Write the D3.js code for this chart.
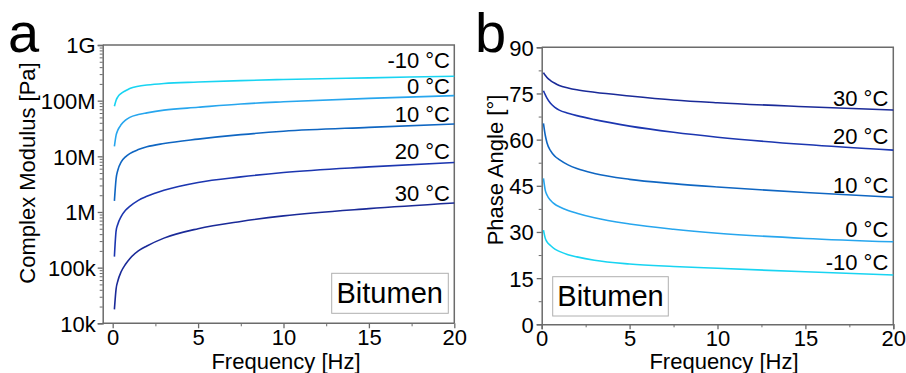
<!DOCTYPE html>
<html><head><meta charset="utf-8">
<script src="https://cdn.jsdelivr.net/npm/d3@7"></script>
<style>
html,body{margin:0;padding:0;background:#fff;}
svg{display:block;font-family:"Liberation Sans",Arial,Helvetica,sans-serif;}
</style></head>
<body>
<svg id="chart" width="906" height="373"></svg>
<script>
// ---------- data ----------
const freq = [0.1, 0.2, 0.3, 0.5, 0.75, 1, 1.5, 2, 3, 5, 7.5, 10, 15, 20];
const temps = ["-10 °C", "0 °C", "10 °C", "20 °C", "30 °C"];
// complex modulus [Pa]
const modM10 = [7.94e7, 1.02e8, 1.17e8, 1.35e8, 1.51e8, 1.66e8, 1.82e8, 1.91e8, 2.04e8, 2.16e8, 2.29e8, 2.4e8, 2.57e8, 2.75e8];
const mod0   = [1.51e7, 2.4e7, 2.95e7, 3.72e7, 4.47e7, 5.01e7, 5.62e7, 6.03e7, 6.76e7, 7.59e7, 8.71e7, 9.55e7, 1.1e8, 1.23e8];
const mod10  = [1.58e6, 3.98e6, 5.62e6, 7.94e6, 9.77e6, 1.12e7, 1.32e7, 1.48e7, 1.7e7, 2.04e7, 2.45e7, 2.82e7, 3.31e7, 3.8e7];
const mod20  = [1.58e5, 4.57e5, 6.03e5, 8.32e5, 1.07e6, 1.26e6, 1.62e6, 1.91e6, 2.45e6, 3.39e6, 4.27e6, 5.13e6, 6.46e6, 7.76e6];
const mod30  = [1.78e4, 4.17e4, 5.75e4, 8.51e4, 1.15e5, 1.45e5, 2.0e5, 2.45e5, 3.39e5, 5.01e5, 6.76e5, 8.51e5, 1.15e6, 1.45e6];
// phase angle [deg]
const phM10 = [30.6, 28.0, 26.8, 25.6, 24.4, 23.7, 22.6, 21.9, 20.8, 19.6, 18.8, 18.2, 17.05, 16.0];
const ph0   = [47.4, 43.6, 42.0, 40.3, 39.0, 38.2, 37.0, 36.1, 34.6, 32.6, 30.9, 29.6, 27.9, 26.8];
const ph10  = [65.3, 61.5, 59.0, 56.4, 54.6, 53.5, 51.8, 50.6, 49.0, 47.1, 45.7, 44.6, 42.8, 41.3];
const ph20  = [75.9, 74.6, 73.5, 71.8, 70.5, 69.6, 68.6, 67.8, 66.5, 64.4, 62.4, 60.8, 58.4, 56.6];
const ph30  = [81.8, 80.9, 80.2, 79.2, 78.3, 77.6, 76.8, 76.2, 75.4, 74.2, 72.9, 72.0, 70.7, 69.6];
const colors = ["#18d4f2", "#27a6ee", "#0f66c2", "#1c36b0", "#1a2a98"];
const xTicks = [0, 5, 10, 15, 20];
const xMinor = [2.5, 7.5, 12.5, 17.5];
const modTicks = [1e4, 1e5, 1e6, 1e7, 1e8, 1e9];
const modTickLabels = ["10k", "100k", "1M", "10M", "100M", "1G"];
const phTicks = [0, 15, 30, 45, 60, 75, 90];
const phMinor = [7.5, 22.5, 37.5, 52.5, 67.5, 82.5];

// ---------- drawing ----------
const svg = d3.select("#chart");
const AX = "#6b6b6b";
const tickFont = 22, titleFont = 22;

function frame(g, x0, x1, y0, y1) {
  g.append("path").attr("d", `M${x0},${y0}H${x1}V${y1}`)
    .attr("fill", "none").attr("stroke", AX).attr("stroke-width", 1.5);
}
function styleAxis(sel) {
  sel.select(".domain").attr("stroke", AX).attr("stroke-width", 1.5);
  sel.selectAll(".tick line").attr("stroke", AX).attr("stroke-width", 1.3);
  sel.selectAll(".tick text").attr("fill", "#000").style("font-size", tickFont + "px");
}

// ---- panel a ----
{
  const x = d3.scaleLinear().domain([-0.585, 20]).range([102.7, 454.3]);
  const y = d3.scaleLog().domain([1e4, 1e9]).range([323.3, 45]);
  const g = svg.append("g");
  frame(g, x.range()[0], x.range()[1], y.range()[1], y.range()[0]);
  const minorY = [];
  for (let d = 1e4; d < 1e9; d *= 10) for (let k = 2; k <= 9; k++) minorY.push(d * k);
  g.append("g").attr("transform", `translate(${x.range()[0]},0)`)
    .call(d3.axisLeft(y).tickValues(minorY).tickSize(3).tickFormat(""))
    .call(s => { s.select(".domain").remove(); s.selectAll("line").attr("stroke", AX); });
  g.append("g").attr("transform", `translate(0,${y.range()[0]})`)
    .call(d3.axisBottom(x).tickValues(xMinor).tickSize(3).tickFormat(""))
    .call(s => { s.select(".domain").remove(); s.selectAll("line").attr("stroke", AX); });
  const ya = g.append("g").attr("transform", `translate(${x.range()[0]},0)`)
    .call(d3.axisLeft(y).tickValues(modTicks).tickSize(5).tickPadding(2)
      .tickFormat((d, i) => modTickLabels[i]));
  styleAxis(ya);
  ya.selectAll(".tick text").attr("dy", "0.36em");
  const xa = g.append("g").attr("transform", `translate(0,${y.range()[0]})`)
    .call(d3.axisBottom(x).tickValues(xTicks).tickSize(5).tickPadding(1));
  styleAxis(xa);
  xa.select(".domain").attr("d", `M${x.range()[0]},0H${x.range()[1]}`);

  const mods = [modM10, mod0, mod10, mod20, mod30];
  const line = d3.line().x((d, i) => x(freq[i])).y(d => y(d)).curve(d3.curveMonotoneX);
  mods.forEach((s, k) => {
    g.append("path").datum(s).attr("d", line).attr("fill", "none")
      .attr("stroke", colors[k]).attr("stroke-width", 1.6);
  });
  const labY = [68, 94.3, 121.7, 159.3, 200.7];
  temps.forEach((t, k) => {
    g.append("text").attr("x", 450).attr("y", labY[k]).attr("text-anchor", "end")
      .style("font-size", tickFont + "px").text(t);
  });
  g.append("rect").attr("x", 331.7).attr("y", 273.3).attr("width", 116.6).attr("height", 40)
    .attr("fill", "#fff").attr("stroke", "#b0b0b0").attr("stroke-width", 1);
  g.append("text").attr("x", 336.5).attr("y", 302.7).style("font-size", "29px").text("Bitumen");
  g.append("text").attr("x", 286).attr("y", 369).attr("text-anchor", "middle")
    .style("font-size", titleFont + "px").text("Frequency [Hz]");
  g.append("text").attr("transform", "translate(35,173) rotate(-90)").attr("text-anchor", "middle")
    .style("font-size", titleFont + "px").text("Complex Modulus [Pa]");
  g.append("text").attr("x", 8).attr("y", 52).style("font-size", "56px").text("a");
}

// ---- panel b ----
{
  const x = d3.scaleLinear().domain([0, 20]).range([541.7, 893.3]);
  const y = d3.scaleLinear().domain([0, 90]).range([324.3, 47.3]);
  const g = svg.append("g");
  frame(g, x.range()[0], x.range()[1], y.range()[1], y.range()[0]);
  g.append("g").attr("transform", `translate(${x.range()[0]},0)`)
    .call(d3.axisLeft(y).tickValues(phMinor).tickSize(3).tickFormat(""))
    .call(s => { s.select(".domain").remove(); s.selectAll("line").attr("stroke", AX); });
  g.append("g").attr("transform", `translate(0,${y.range()[0]})`)
    .call(d3.axisBottom(x).tickValues(xMinor).tickSize(3).tickFormat(""))
    .call(s => { s.select(".domain").remove(); s.selectAll("line").attr("stroke", AX); });
  const ya = g.append("g").attr("transform", `translate(${x.range()[0]},0)`)
    .call(d3.axisLeft(y).tickValues(phTicks).tickSize(5).tickPadding(3));
  styleAxis(ya);
  ya.selectAll(".tick text").attr("dy", "0.36em");
  const xa = g.append("g").attr("transform", `translate(0,${y.range()[0]})`)
    .call(d3.axisBottom(x).tickValues(xTicks).tickSize(5).tickPadding(1));
  styleAxis(xa);

  const phs = [phM10, ph0, ph10, ph20, ph30];
  const line = d3.line().x((d, i) => x(freq[i])).y(d => y(d)).curve(d3.curveMonotoneX);
  phs.forEach((s, k) => {
    g.append("path").datum(s).attr("d", line).attr("fill", "none")
      .attr("stroke", colors[k]).attr("stroke-width", 1.6);
  });
  const labY = [270, 237.3, 192.7, 144, 106];
  temps.forEach((t, k) => {
    g.append("text").attr("x", 888.3).attr("y", labY[k]).attr("text-anchor", "end")
      .style("font-size", tickFont + "px").text(t);
  });
  g.append("rect").attr("x", 552.7).attr("y", 276.7).attr("width", 115.6).attr("height", 39.3)
    .attr("fill", "#fff").attr("stroke", "#b0b0b0").attr("stroke-width", 1);
  g.append("text").attr("x", 557.3).attr("y", 306).style("font-size", "29px").text("Bitumen");
  g.append("text").attr("x", 724).attr("y", 369).attr("text-anchor", "middle")
    .style("font-size", titleFont + "px").text("Frequency [Hz]");
  g.append("text").attr("transform", "translate(503,170) rotate(-90)").attr("text-anchor", "middle")
    .style("font-size", titleFont + "px").text("Phase Angle [°]");
  g.append("text").attr("x", 475).attr("y", 52).style("font-size", "56px").text("b");
}
</script>
</body></html>
